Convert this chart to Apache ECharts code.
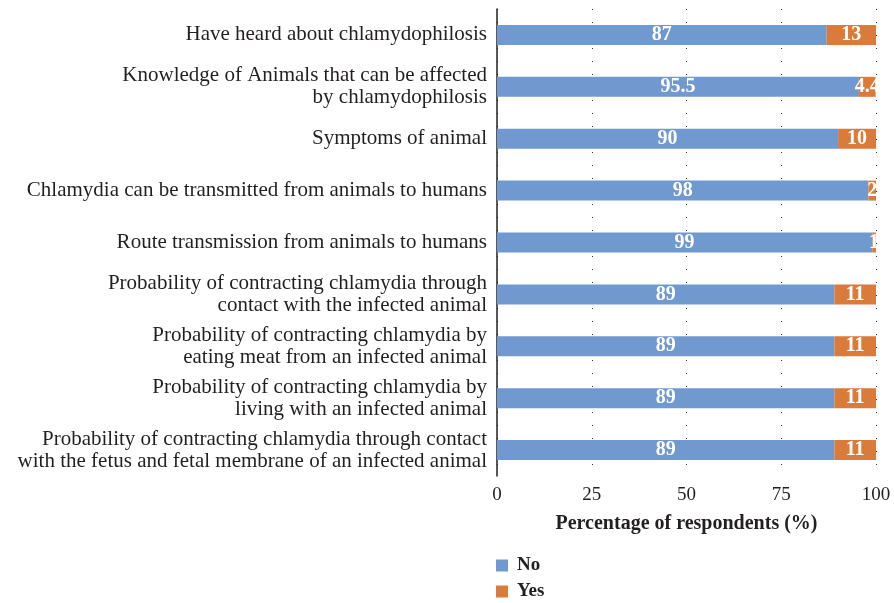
<!DOCTYPE html>
<html>
<head>
<meta charset="utf-8">
<script src="https://cdn.jsdelivr.net/npm/echarts@6/dist/echarts.min.js"></script>
<style>
  html, body { margin: 0; padding: 0; background: #fff; }
  #main { width: 894px; height: 603px; }
</style>
</head>
<body>
<div id="main"></div>
<script>
// categories, top to bottom
var categories = [
  'Have heard about chlamydophilosis',
  'Knowledge of Animals that can be affected\nby chlamydophilosis',
  'Symptoms of animal',
  'Chlamydia can be transmitted from animals to humans',
  'Route transmission from animals to humans',
  'Probability of contracting chlamydia through\ncontact with the infected animal',
  'Probability of contracting chlamydia by\neating meat from an infected animal',
  'Probability of contracting chlamydia by\nliving with an infected animal',
  'Probability of contracting chlamydia through contact\nwith the fetus and fetal membrane of an infected animal'
]
var noValues = [87, 95.5, 90, 98, 99, 89, 89, 89, 89]
var yesValues = [13, 4.4, 10, 2, 1, 11, 11, 11, 11]
var xTicks = [0, 25, 50, 75, 100]

var font = 'Liberation Serif'
var textColor = '#231f20'

var myChart = echarts.init(document.getElementById('main'))

var barLabel = {
  show: true,
  position: 'inside',
  color: '#fff',
  fontFamily: font,
  fontWeight: 'bold',
  fontSize: 20
}

// padding pushes the text a little further from the square
var legendText = { fontFamily: font, fontWeight: 'bold', fontSize: 19, color: textColor, padding: [0, 0, 0, 4] }

var option = {
  animation: false,
  color: ['#7099cf', '#d97b3a'],
  textStyle: { fontFamily: font },
  grid: { left: 497, right: 18, top: 9, bottom: 127 },
  // two one-item legends, stacked
  legend: [
    {
      data: ['No'],
      left: 491, top: 551,
      itemWidth: 12, itemHeight: 12, itemGap: 8, icon: 'rect',
      textStyle: legendText
    },
    {
      data: ['Yes'],
      left: 491, top: 577,
      itemWidth: 12, itemHeight: 12, itemGap: 8, icon: 'rect',
      textStyle: legendText
    }
  ],
  xAxis: {
    type: 'value',
    min: 0,
    max: 100,
    interval: 25,
    name: 'Percentage of respondents (%)',
    nameLocation: 'middle',
    nameGap: 38,
    nameTextStyle: { fontFamily: font, fontWeight: 'bold', fontSize: 20, color: textColor },
    axisLine: { show: false },
    axisTick: { show: false },
    axisLabel: {
      fontFamily: font, fontSize: 19, color: textColor, margin: 10,
      formatter: function (v) { return xTicks.indexOf(v) >= 0 ? String(v) : '' }
    },
    splitLine: {
      show: true,
      lineStyle: { color: '#333', width: 1, type: [1, 12] }
    }
  },
  yAxis: {
    type: 'category',
    inverse: true,
    data: categories,
    axisLine: { show: true, lineStyle: { color: '#231f20', width: 1.5 } },
    axisTick: { show: false },
    axisLabel: {
      fontFamily: font, fontSize: 21, color: textColor, margin: 10,
      lineHeight: 22, align: 'right'
    }
  },
  series: [
    {
      name: 'No',
      type: 'bar',
      stack: 'total',
      barWidth: 20,
      label: barLabel,
      data: noValues
    },
    {
      name: 'Yes',
      type: 'bar',
      stack: 'total',
      barWidth: 20,
      label: barLabel,
      data: yesValues
    }
  ]
}
myChart.setOption(option)
</script>
</body>
</html>
